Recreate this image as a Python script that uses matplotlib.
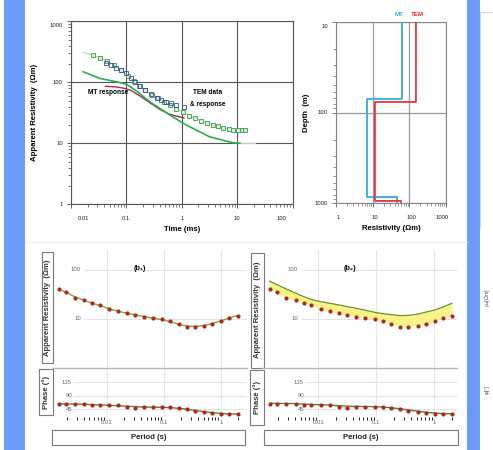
import numpy as np
import matplotlib
matplotlib.use("Agg")
import matplotlib.pyplot as plt
from matplotlib.patches import Rectangle
from matplotlib.lines import Line2D
from matplotlib import transforms
from matplotlib.ticker import LogLocator, NullFormatter

plt.rcParams['font.family'] = ['Liberation Sans', 'DejaVu Sans']

W, H = 493, 450

# ---------------- top left: apparent resistivity vs time
tem_t = [0.025, 0.033, 0.045, 0.060, 0.080, 0.105, 0.136, 0.17, 0.22, 0.29, 0.37, 0.48,
         0.62, 0.80, 1.05, 1.35, 1.75, 2.25, 2.85, 3.6, 4.5, 5.6, 7.0, 8.6, 10.3, 12.0, 14.0]
tem_rho = [280, 250, 225, 190, 158, 128, 105, 88, 74, 63, 55, 48,
           42, 37, 32, 28.5, 26, 23.5, 21.5, 20, 19, 18, 17.3, 16.8, 16.5, 16.4, 16.4]
tem_resp_t = [0.0166, 0.025, 0.045, 0.080, 0.136, 0.22, 0.37, 0.62, 1.05, 1.75, 2.85, 4.5, 7.0, 10.3, 14.5]
tem_resp_rho = [310, 280, 225, 158, 105, 74, 55, 42, 32, 26, 21.5, 19, 17.3, 16.5, 16.4]

data_t = [0.042, 0.052, 0.065, 0.079, 0.098, 0.12, 0.142, 0.175, 0.215, 0.276, 0.35, 0.43,
          0.53, 0.65, 0.80, 1.09]
data_rho = [210, 192, 174, 158, 140, 119, 101, 86, 74, 64, 56, 51, 47.5, 45, 42.5, 39.5]

mt_resp_t = [0.0166, 0.033, 0.066, 0.1, 0.153, 0.22, 0.303, 0.45, 0.61, 0.8, 1.06, 1.6,
             2.1, 3.17, 4.2, 6.0, 8.5, 11.2]
mt_resp_rho = [149, 116, 102, 93, 72, 55, 44, 35, 29, 25, 21.3, 17.5, 15.5, 12.8, 12, 11, 10.2, 10]
tail_t = [11.2, 21]
tail_rho = [10, 10]

mt2_t = [0.042, 0.065, 0.09, 0.12, 0.175, 0.25, 0.4, 0.6, 0.85, 1.1]
mt2_rho = [86, 84, 80, 74, 60, 48, 36, 30, 27.5, 26]

# ---------------- top right: layered models
mt_layer_rho = [64, 6.9, 47]
mt_layer_depth = [10, 71, 860, 1000]
tem_layer_rho = [149, 11.5, 58]
tem_layer_depth = [10, 76, 950, 1000]

# ---------------- bottom: MT sounding curves
period = [0.00145, 0.00195, 0.00282, 0.00407, 0.00562, 0.00759, 0.0112, 0.0158, 0.0224,
          0.0316, 0.0447, 0.0646, 0.0933, 0.129, 0.182, 0.257, 0.355, 0.513, 0.708, 1.02,
          1.41, 2.0]
obs_rho = [40, 34.5, 26.5, 23.5, 20.5, 19, 15.5, 14, 12.8, 11.9, 11.0, 10.2, 9.7, 8.9,
           7.8, 6.8, 6.8, 7.2, 7.7, 9.1, 10.5, 11.5]
obs_phase = [64, 64, 64, 64, 59, 59, 59, 58, 53, 48, 54, 54, 53, 52, 48, 45, 39, 35, 34,
             30, 29, 29]
fit_rho = [40, 34, 27.5, 23.5, 20.5, 18.5, 15.8, 14.1, 12.9, 11.9, 11.0, 10.2, 9.5, 8.6,
           7.7, 7.0, 6.9, 7.2, 7.9, 9.0, 10.3, 11.6]
fit_phase = [63, 63, 62.5, 62, 60.5, 59.5, 58.5, 57, 55.5, 54, 53, 52.5, 52, 51, 48.5,
             45.5, 41.5, 37.5, 34, 31.5, 30, 29.5]
tem_model_rho = [58, 49, 40, 33, 28, 24.5, 22, 20.5, 19, 17.5, 16.2, 14.8, 13.4, 12.6,
                 12.0, 11.5, 11.6, 12.3, 13.5, 15.0, 17.2, 20.5]
tem_model_phase = [65, 65, 64.5, 64, 62.5, 61.5, 60.5, 59, 57.5, 56, 55, 54.5, 54, 53,
                   50.5, 47.5, 43.5, 39.5, 36, 33, 31.5, 31]


def box(x0, y0, x1, y1):
    return [x0 / W, 1 - y1 / H, (x1 - x0) / W, (y1 - y0) / H]


def rect(x0, y0, x1, y1, **kw):
    fig.patches.append(Rectangle((x0 / W, 1 - y1 / H), (x1 - x0) / W, (y1 - y0) / H,
                                 transform=fig.transFigure, **kw))


def hline(x0, x1, y, **kw):
    fig.lines.append(Line2D([x0 / W, x1 / W], [1 - y / H, 1 - y / H],
                            transform=fig.transFigure, **kw))


def vline(x, y0, y1, **kw):
    fig.lines.append(Line2D([x / W, x / W], [1 - y0 / H, 1 - y1 / H],
                            transform=fig.transFigure, **kw))


def shift(label, dx, dy):
    label.set_transform(label.get_transform() +
                        transforms.ScaledTranslation(dx / 100, -dy / 100, fig.dpi_scale_trans))


fig = plt.figure(figsize=(W / 100, H / 100), dpi=100)
fig.patch.set_facecolor('white')

blue = '#6b9cfd'
rect(4, 0, 25, 450, facecolor=blue, edgecolor='none')
rect(467, 0, 480, 450, facecolor=blue, edgecolor='none')
vline(479.5, 11.5, 227, color='#d0d0d0', lw=0.6)
hline(479.5, 493, 11.5, color='#d0d0d0', lw=0.6)
hline(25, 467, 242, color='#ececec', lw=0.8)

# ---------- top left
ax = fig.add_axes(box(71, 21.3, 292.5, 204.3))
ax.set_xscale('log')
ax.set_yscale('log')
ax.set_xlim(0.01, 100)
ax.set_ylim(1, 1000)
ax.plot(tem_resp_t, tem_resp_rho, color='#9ccf9c', lw=0.7, zorder=3)
ax.plot(tem_t, tem_rho, ls='none', marker='s', ms=2.6, mfc='#d9eed9', mec='#3a9a4a',
        mew=0.6, zorder=4)
ax.plot(data_t, data_rho, ls='none', marker='s', ms=2.8, mfc='none', mec='#3b4a9a',
        mew=0.6, zorder=5)
ax.plot(mt2_t, mt2_rho, color='#a3285e', lw=1.0, zorder=5)
ax.plot(mt_resp_t, mt_resp_rho, color='#27b04a', lw=1.2, zorder=6)
ax.plot(tail_t, tail_rho, color='#c8c8c8', lw=0.8, zorder=2)
ax.grid(True, which='major', color='#555555', lw=0.8)
for s in ax.spines.values():
    s.set_color('#555555')
    s.set_linewidth(0.8)
ax.set_xticks([0.01, 0.1, 1, 10, 100], ['0.01', '0.1', '1', '10', '100'])
ax.set_yticks([1, 10, 100, 1000], ['1', '10', '100', '1000'])
ax.xaxis.set_minor_locator(LogLocator(base=10, subs=np.arange(2, 10)))
ax.yaxis.set_minor_locator(LogLocator(base=10, subs=np.arange(2, 10)))
ax.xaxis.set_minor_formatter(NullFormatter())
ax.yaxis.set_minor_formatter(NullFormatter())
ax.tick_params(which='major', length=3, width=0.6, color='#444', labelsize=4.2,
               labelcolor='#222', pad=3)
ax.tick_params(which='minor', length=2, width=0.5, color='#444')
labs = ax.get_xticklabels()
shift(labs[0], 12, 3)
for lb in labs[1:-1]:
    shift(lb, 0, 3)
shift(labs[-1], -11, 3)
shift(ax.get_yticklabels()[-1], 0, 4)
ax.set_xlabel('Time (ms)', fontsize=5.6, fontweight='bold', labelpad=4)
ax.set_ylabel('Apparent Resistivity  (\u03a9m)', fontsize=5.6, fontweight='bold', labelpad=8)
ax.text(0.046, 67, 'MT response', fontsize=4.7, fontweight='bold', ha='center', va='center')
ax.text(2.94, 67, 'TEM data', fontsize=4.7, fontweight='bold', ha='center', va='center')
ax.text(2.94, 42.5, '& response', fontsize=4.7, fontweight='bold', ha='center', va='center')

# ---------- top right
ax2 = fig.add_axes(box(336, 21.7, 446, 203.3))
ax2.set_xscale('log')
ax2.set_yscale('log')
ax2.set_xlim(1, 1000)
ax2.set_ylim(1000, 10)
for rho, dep, col in [(mt_layer_rho, mt_layer_depth, '#2aaee0'),
                      (tem_layer_rho, tem_layer_depth, '#e3262a')]:
    xs = np.repeat(rho, 2)
    ys = [dep[0]] + [d for d in dep[1:-1] for _ in range(2)] + [dep[-1]]
    ax2.plot(xs, ys, color=col, lw=1.3, zorder=4)
    if col == '#e3262a':
        ax2.plot(xs, ys, color='#ff9a9a', lw=0.5, ls=(0, (1, 1.5)), zorder=5)
ax2.grid(True, which='major', color='#9a9a9a', lw=0.9)
for s in ax2.spines.values():
    s.set_color('#888888')
    s.set_linewidth(0.8)
ax2.set_xticks([1, 10, 100, 1000], ['1', '10', '100', '1000'])
ax2.set_yticks([10, 100, 1000], ['10', '100', '1000'])
ax2.xaxis.set_minor_locator(LogLocator(base=10, subs=np.arange(2, 10)))
ax2.yaxis.set_minor_locator(LogLocator(base=10, subs=np.arange(2, 10)))
ax2.xaxis.set_minor_formatter(NullFormatter())
ax2.yaxis.set_minor_formatter(NullFormatter())
ax2.tick_params(which='major', length=3, width=0.6, color='#666', labelsize=4.2,
                labelcolor='#222', pad=3)
ax2.tick_params(which='minor', length=2, width=0.5, color='#666')
labs = ax2.get_xticklabels()
for lb in labs[:-1]:
    shift(lb, 2, 3)
shift(labs[-1], -4, 3)
shift(ax2.get_yticklabels()[0], 0, 4)
ax2.set_xlabel('Resistivity (\u03a9m)', fontsize=5.6, fontweight='bold', labelpad=4)
ax2.set_ylabel('Depth  (m)', fontsize=5.6, fontweight='bold', labelpad=3)
ax2.text(0.575, 1.04, 'MT', color='#2aaee0', fontsize=4.5, fontweight='bold',
         ha='center', va='center', transform=ax2.transAxes)
ax2.text(0.745, 1.04, 'TEM', color='#e3262a', fontsize=4.5, fontweight='bold',
         ha='center', va='center', transform=ax2.transAxes)

# ---------- bottom panels
panels = [
    dict(x0=53, x1=247, xl=(10 ** -2.94, 10 ** 0.46), tag='(b\u2081)', model=False,
         rbox=(41.7, 251.7, 53.3, 363.3), pbox=(39, 369.3, 53.3, 415),
         perbox=(52.3, 430, 245, 445), glx=84, plx=73, labx=81),
    dict(x0=262, x1=457, xl=(10 ** -2.97, 10 ** 0.39), tag='(b\u2082)', model=True,
         rbox=(250.7, 252.5, 264.3, 367.5), pbox=(250.3, 370, 264.3, 425),
         perbox=(264, 430, 458.3, 445), glx=302, plx=305, labx=298),
]
for p in panels:
    axr = fig.add_axes(box(p['x0'], 250, p['x1'], 367.5))
    axp = fig.add_axes(box(p['x0'], 367.5, p['x1'], 417))
    for a in (axr, axp):
        a.set_xscale('log')
        a.set_xlim(*p['xl'])
        for s in a.spines.values():
            s.set_visible(False)
        a.tick_params(length=0)
        for xv in [0.01, 0.1, 1]:
            a.axvline(xv, color='#e6e6e6', lw=0.8, zorder=0)
    axr.set_yscale('log')
    axr.set_ylim(1, 10 ** 2.4)
    axp.set_ylim(20, 183)
    axr.set_xticks([])
    axr.set_yticks([])
    axp.set_yticks([])
    axp.set_xticks([0.01, 0.1, 1], ['0.01', '0.1', '1'])
    axp.tick_params(labelsize=4.3, labelcolor='#666', pad=2.5)
    fx = (p['glx'] - p['x0']) / (p['x1'] - p['x0'])
    fl = (p['labx'] - p['x0']) / (p['x1'] - p['x0'])
    for yv, lab in [(100, '100'), (10, '10')]:
        axr.axhline(yv, xmin=fx, color='#e3e3e3', lw=0.8, zorder=0)
        axr.text(fl, yv, lab, transform=axr.get_yaxis_transform(), fontsize=4.3,
                 color='#666', ha='right', va='center')
    fp = (p['plx'] - p['x0']) / (p['x1'] - p['x0'])
    for yv in [135, 90, 45]:
        axp.axhline(yv, xmin=fp, color='#e3e3e3', lw=0.8, zorder=0)
        axp.text(fp - 0.005, yv, str(yv), transform=axp.get_yaxis_transform(),
                 fontsize=4.3, color='#666', ha='right', va='center')
    hline(p['x0'], p['x1'], 367.7, color='#b5b5b5', lw=1.0)
    if p['model']:
        axr.fill_between(period, obs_rho, tem_model_rho, color='#f7f27a', alpha=0.9, lw=0,
                         zorder=1)
        axr.plot(period, tem_model_rho, color='#6f8f2a', lw=0.9, zorder=2)
        axp.fill_between(period, obs_phase, tem_model_phase, color='#cfeac0', lw=0, zorder=1)
        axp.plot(period, tem_model_phase, color='#4f7a2a', lw=0.9, zorder=2)
    else:
        axr.plot(period, fit_rho, color='#86a23c', lw=1.0, zorder=2)
        axp.plot(period, fit_phase, color='#5d7f2e', lw=1.0, zorder=2)
    axr.plot(period, obs_rho, ls='none', marker='o', ms=3.0, mfc='#b3261e', mec='#b3261e',
             mew=0, zorder=3)
    axp.plot(period, obs_phase, ls='none', marker='o', ms=3.0, mfc='#b3261e', mec='#b3261e',
             mew=0, zorder=3)
    axr.text(0.45, 0.84, p['tag'], transform=axr.transAxes, fontsize=5.2, fontweight='bold',
             ha='center', va='center')

    x0, y0, x1, y1 = p['rbox']
    rect(x0, y0, x1, y1, facecolor='white', edgecolor='#7a7a7a', lw=0.8)
    fig.text((x0 + x1) / 2 / W, 1 - (y0 + y1) / 2 / H, 'Apparent Resistivity  (\u03a9m)',
             rotation=90, fontsize=5.5, fontweight='bold', color='#333', ha='center',
             va='center')
    x0, y0, x1, y1 = p['pbox']
    rect(x0, y0, x1, y1, facecolor='white', edgecolor='#7a7a7a', lw=0.8)
    fig.text((x0 + x1) / 2 / W, 1 - (y0 + y1) / 2 / H, 'Phase (\u00b0)', rotation=90,
             fontsize=5.5, fontweight='bold', color='#333', ha='center', va='center')
    x0, y0, x1, y1 = p['perbox']
    rect(x0, y0, x1, y1, facecolor='white', edgecolor='#7a7a7a', lw=0.8)
    fig.text((x0 + x1) / 2 / W, 1 - (y0 + y1) / 2 / H, 'Period (s)', fontsize=5.6,
             fontweight='bold', color='#222', ha='center', va='center')

fig.text(487 / W, 1 - 297 / H, '\u03c1$_a$[\u03a9m]', rotation=90, fontsize=4, color='#555',
         ha='center', va='center')
fig.text(487 / W, 1 - 390 / H, '\u03c6[\u00b0]', rotation=90, fontsize=4, color='#555',
         ha='center', va='center')

fig.savefig('out.png', dpi=100)
